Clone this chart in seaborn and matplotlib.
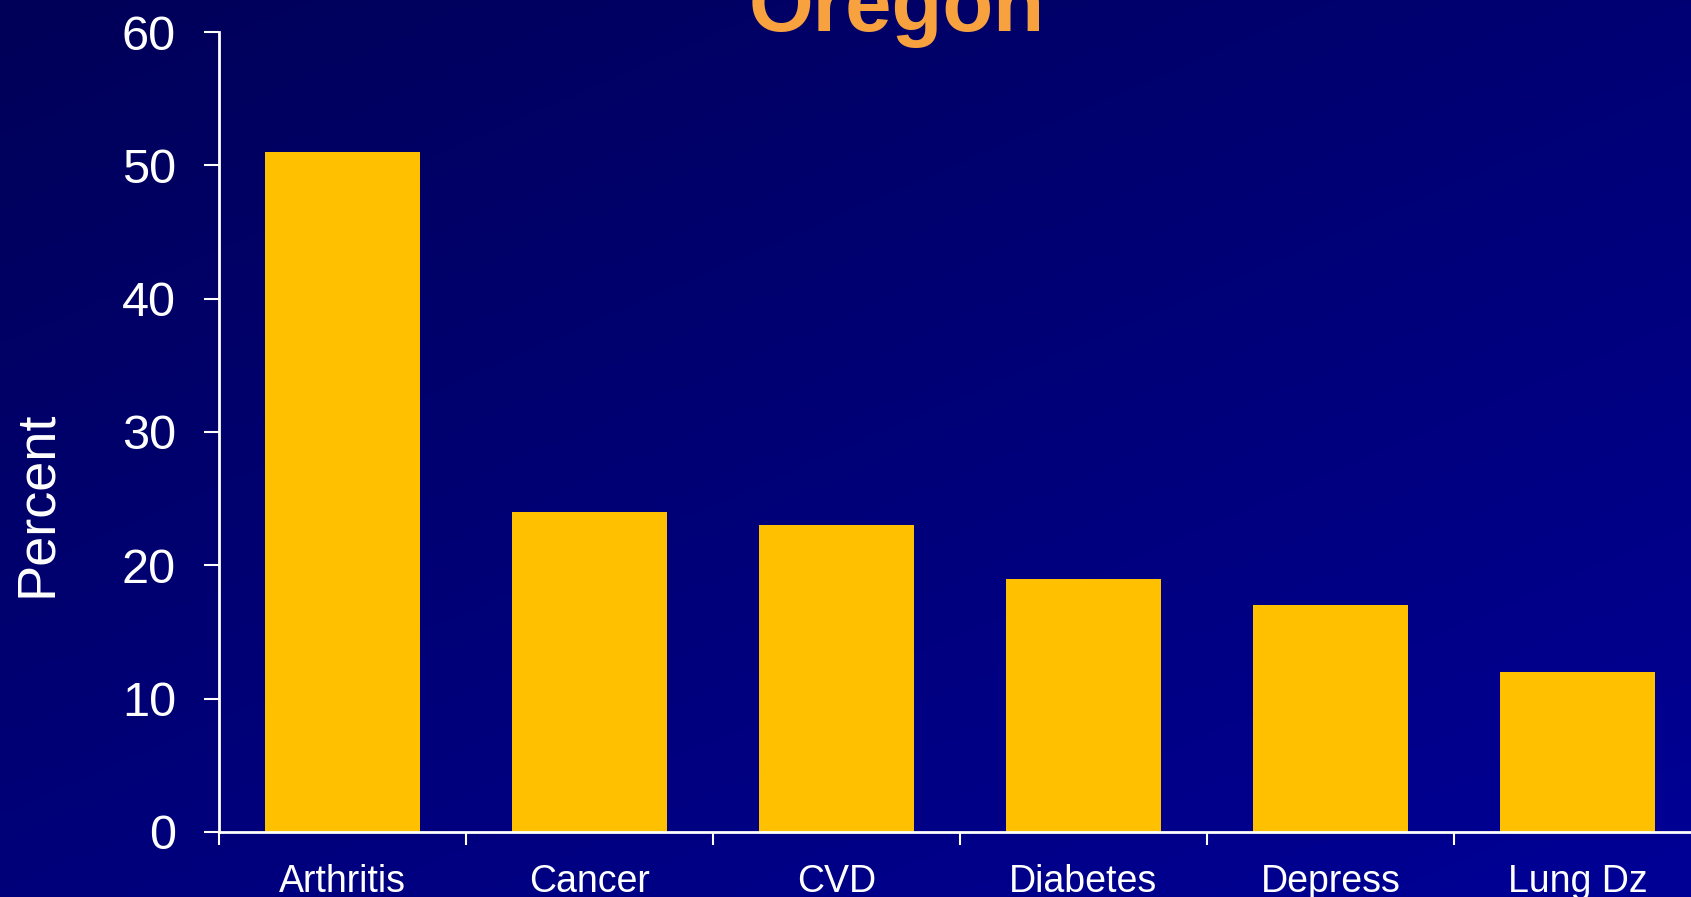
import matplotlib
matplotlib.use("Agg")
import matplotlib.pyplot as plt
import seaborn as sns
import numpy as np
import pandas as pd
from matplotlib.colors import LinearSegmentedColormap

conditions = ["Arthritis", "Cancer", "CVD", "Diabetes", "Depress", "Lung Dz"]
percent = [51, 24, 23, 19, 17, 12]
y_ticks = [0, 10, 20, 30, 40, 50, 60]
title = "Oregon"

df = pd.DataFrame({"condition": conditions, "percent": percent})

sns.set_theme(style="white")
plt.rcParams["font.family"] = ["Liberation Sans", "DejaVu Sans"]

fig = plt.figure(figsize=(16.91, 8.97), dpi=100)

# diagonal navy -> blue background
bg = fig.add_axes([0, 0, 1, 1], zorder=-1)
gx, gy = np.meshgrid(np.linspace(0, 1, 300), np.linspace(0, 1, 300))
grad = 0.45 * gx + 0.55 * gy
cmap = LinearSegmentedColormap.from_list("bg", ["#000058", "#000096"])
bg.imshow(grad, cmap=cmap, aspect="auto", extent=[0, 1, 0, 1], origin="upper")
bg.axis("off")

ax = fig.add_axes([0.1295, 0.0725, 0.8764, 0.8918])
ax.set_facecolor("none")
sns.barplot(data=df, x="condition", y="percent", color="#FFC000",
            saturation=1, width=0.627, linewidth=0, ax=ax)

ax.set_ylim(0, 60)
ax.set_xlim(-0.5, len(conditions) - 0.5)
ax.set_yticks(y_ticks)
ax.set_yticklabels([str(t) for t in y_ticks])
ax.set_xlabel("")
ax.set_ylabel("Percent", color="white", fontsize=39)
ax.yaxis.set_label_coords(-0.106, 0.41)

for s in ["top", "right"]:
    ax.spines[s].set_visible(False)
for s in ["left", "bottom"]:
    ax.spines[s].set_color("white")
    ax.spines[s].set_linewidth(2)

ax.tick_params(axis="y", colors="white", labelsize=35, length=11, width=1.5,
               direction="out", pad=20, left=True)
ax.tick_params(axis="x", which="major", colors="white", labelsize=27,
               length=0, pad=23)
ax.set_xticks(np.arange(-0.5, len(conditions), 1.0), minor=True)
ax.tick_params(axis="x", which="minor", color="white", length=9, width=1.5,
               direction="out", bottom=True)

fig.text(0.53, 0.965, title, color="#F7A13F", fontsize=60, fontweight="bold",
         ha="center", va="baseline")

fig.savefig("out.png", dpi=100)
